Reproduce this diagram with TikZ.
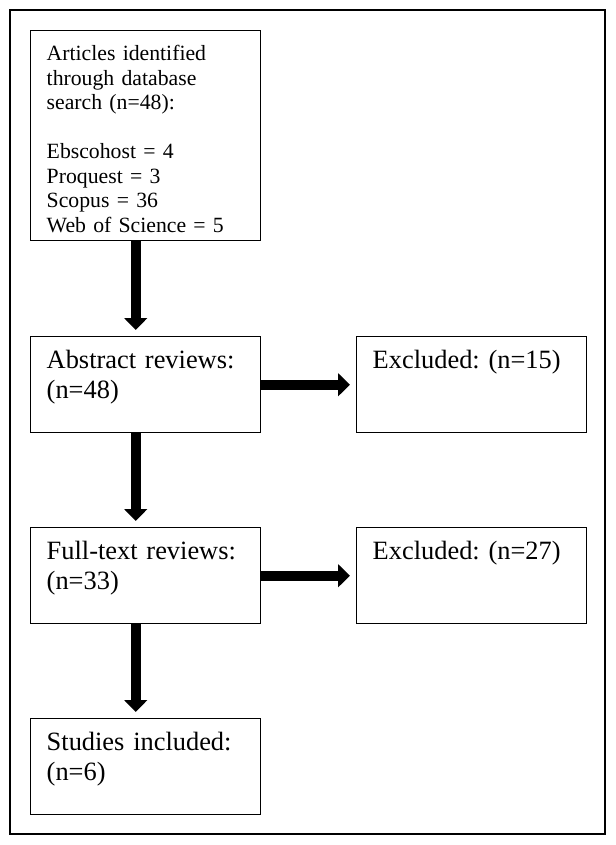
\documentclass[tikz,border=0pt]{standalone}
\usepackage{fontspec}
\setmainfont{Liberation Serif}
\frenchspacing
\usetikzlibrary{arrows.meta,positioning}

\tikzset{
  stage/.style={draw, line width=1.1pt, anchor=north west, align=left,
    inner xsep=12pt, inner ysep=0pt, text width=148.5pt,
    font=\fontsize{19.8}{22.5}\selectfont, text height=24pt, text depth=48pt},
  flow/.style={line width=7.5pt, -{Triangle[width=17pt,length=9pt]}, shorten >=4.5pt}
}

\begin{document}
\begin{tikzpicture}[x=0.75pt,y=0.75pt,yscale=-1,xscale=1]
        \useasboundingbox (0,0) rectangle (616,845);
        %Outer frame
        \draw [line width=1.1pt] (10,10) rectangle (605,834) ;
        %Search box
        \node [stage, font=\fontsize{16.3}{18.4}\selectfont, text height=22.5pt, text depth=135pt] (srch) at (30,30)
          {Articles identified\\through database\\search (n=48):\\~\\Ebscohost = 4\\Proquest = 3\\Scopus = 36\\Web of Science = 5};
        %Abstract reviews
        \node [stage] (abst) at (30,336) {Abstract reviews:\\(n=48)};
        %Excluded after abstracts
        \node [stage] (excl1) at (356,336) {Excluded: (n=15)};
        %Full-text reviews
        \node [stage] (full) at (30,527) {Full-text reviews:\\(n=33)};
        %Excluded after full text
        \node [stage] (excl2) at (356,527) {Excluded: (n=27)};
        %Studies included
        \node [stage] (incl) at (30,718) {Studies included:\\(n=6)};

        %Arrows
        \draw [flow] ([xshift=-7.5pt]srch.south) -- ([xshift=-7.5pt]srch.south |- abst.north) ;
        \draw [flow] ([xshift=-7.5pt]abst.south) -- ([xshift=-7.5pt]abst.south |- full.north) ;
        \draw [flow] ([xshift=-7.5pt]full.south) -- ([xshift=-7.5pt]full.south |- incl.north) ;
        \draw [flow] (abst.east) -- (abst.east -| excl1.west) ;
        \draw [flow] (full.east) -- (full.east -| excl2.west) ;
\end{tikzpicture}
\end{document}
